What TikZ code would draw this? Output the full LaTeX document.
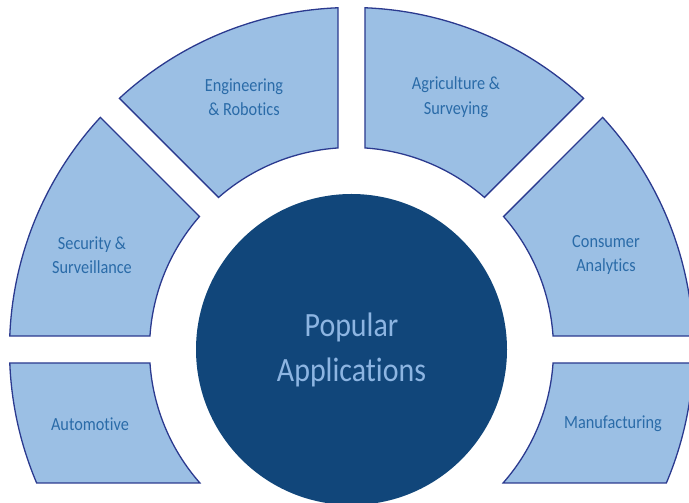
\documentclass[tikz,border=0pt]{standalone}
\usepackage{fontspec}
\setmainfont{Carlito}[FakeStretch=0.88, Ligatures=NoCommon]

\definecolor{sectorfill}{HTML}{9BBFE4}
\definecolor{sectorline}{HTML}{2B3A8F}
\definecolor{sectortext}{HTML}{2A6BA8}
\definecolor{hubfill}{HTML}{11467A}
\definecolor{hubtext}{HTML}{8DB5E2}

\tikzset{
  sector/.style={draw=sectorline, fill=sectorfill, line width=1.3pt},
  applabel/.style={text=sectortext, align=center, font=\fontsize{18.5}{24.5}\selectfont},
  hub/.style={circle, fill=hubfill, inner sep=0pt, minimum size=311pt,
    text=hubtext, align=center, font=\fontsize{34}{45}\selectfont}
}

\begin{document}
\begin{tikzpicture}[x=1pt, y=1pt]
  \useasboundingbox (0,0) rectangle (689,503);

  % ring of sectors around the centre
  \begin{scope}[shift={(351.5,153.5)}]
    \pgfmathsetmacro{\ro}{342}
    \pgfmathsetmacro{\ri}{202}
    \pgfmathsetmacro{\go}{asin(13.5/342)}
    \pgfmathsetmacro{\gi}{asin(13.5/202)}
    \pgfmathsetmacro{\bo}{asin(133.5/342)}
    \pgfmathsetmacro{\bi}{asin(133.5/202)}
    % upper half, four sectors of 45 degrees
    \foreach \a in {0,45,90,135}
      \draw[sector] (\a+\go:\ro) arc[start angle=\a+\go, end angle=\a+45-\go, radius=\ro]
        -- (\a+45-\gi:\ri) arc[start angle=\a+45-\gi, end angle=\a+\gi, radius=\ri] -- cycle;
    % lower half, cut flat at the bottom
    \draw[sector] (180+\go:\ro) arc[start angle=180+\go, end angle=180+\bo, radius=\ro]
      -- (180+\bi:\ri) arc[start angle=180+\bi, end angle=180+\gi, radius=\ri] -- cycle;
    \draw[sector] (-\go:\ro) arc[start angle=-\go, end angle=-\bo, radius=\ro]
      -- (-\bi:\ri) arc[start angle=-\bi, end angle=-\gi, radius=\ri] -- cycle;
  \end{scope}

  % centre
  \node[hub] (hub) at (351.5,153.5) {Popular\\Applications};

  % labels
  \node[applabel] (engineering) at (244,406) {Engineering\\\& Robotics};
  \node[applabel] (agriculture) at (456,406) {Agriculture \&\\Surveying};
  \node[applabel] (security) at (92,248) {Security \&\\Surveillance};
  \node[applabel] (consumer) at (606,248) {Consumer\\Analytics};
  \node[applabel] (automotive) at (90,79) {Automotive};
  \node[applabel] (manufacturing) at (613,79) {Manufacturing};
\end{tikzpicture}
\end{document}
